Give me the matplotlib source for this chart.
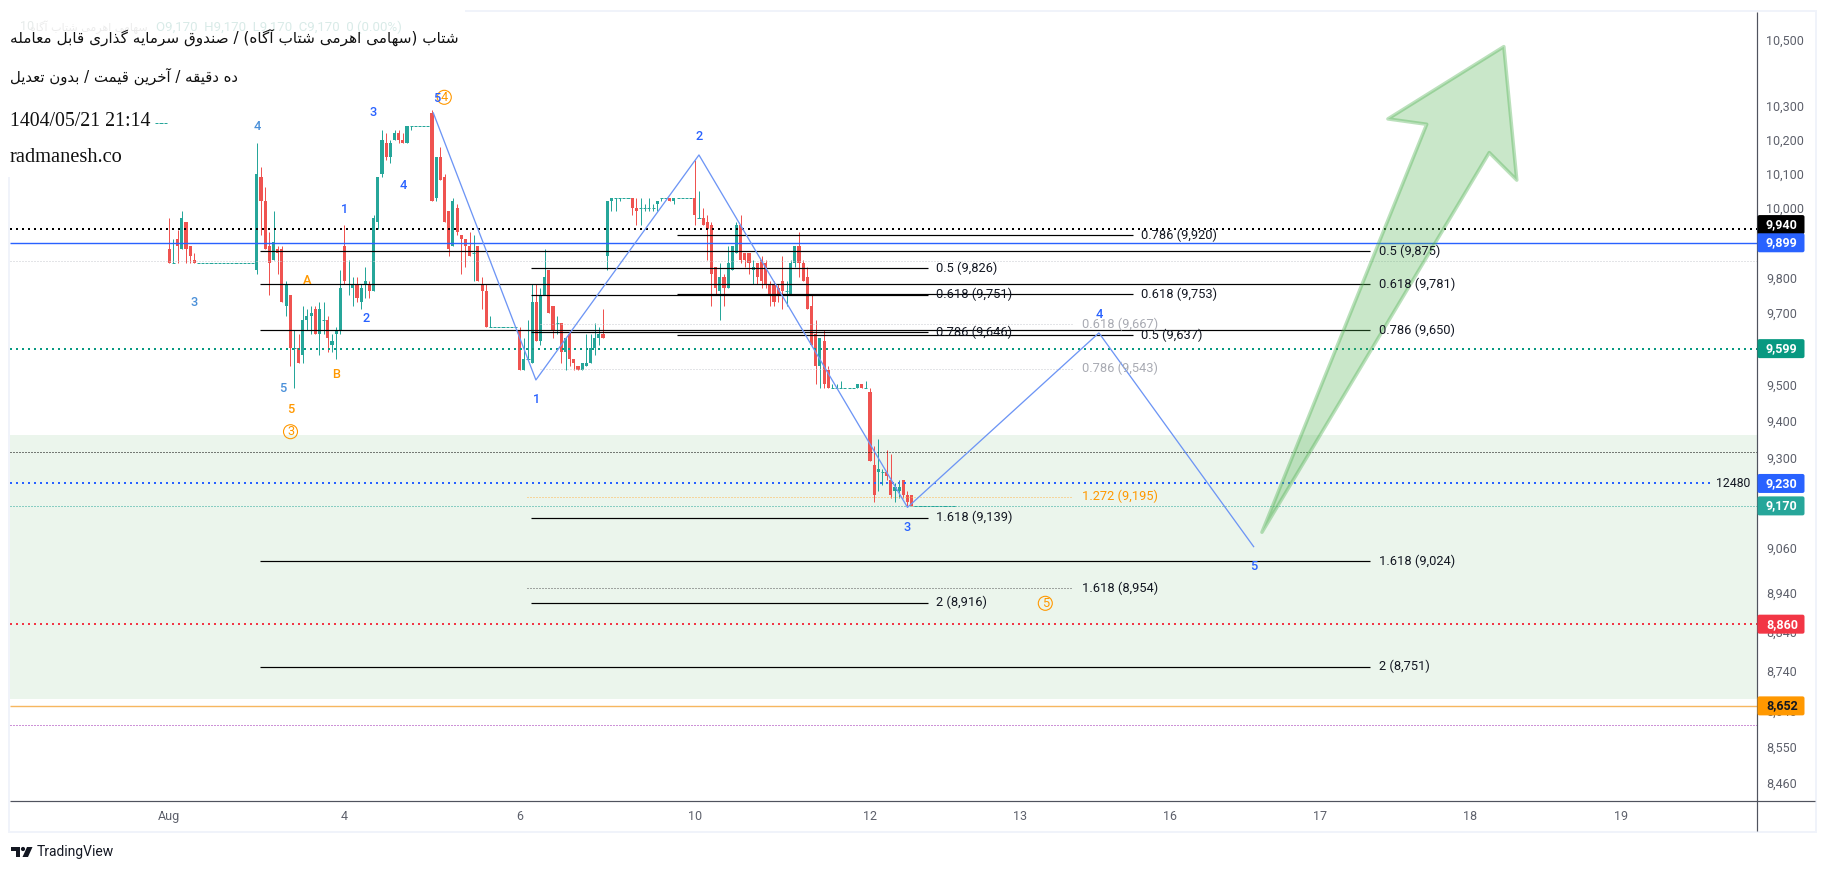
import numpy as np
import matplotlib
matplotlib.use("Agg")
import matplotlib.pyplot as plt
from matplotlib.lines import Line2D
from matplotlib.patches import FancyBboxPatch, Polygon, Rectangle, Circle
from matplotlib.ticker import NullLocator
from matplotlib.transforms import IdentityTransform

W, H = 1827, 871

# ---------- data ----------
first_bar = -3
opens = [10250, 10250, 10250,
 9880,9840,9910,9880,9960,9890,9850,9840,9840,9840,
 9840,9840,9840,9840,9840,9840,9840,9840,9840,9840,
 9840,9820,10090,10020,9890,9850,9880,9880,9720,9750,
 9600,9600,9580,9680,9690,9710,9640,9680,9680,9610,
 9640,9650,9890,9780,9770,9780,9730,9780,9780,9760,
 9960,10100,10190,10150,10200,10220,10200,10190,10240,10240,
 10240,10240,10240,10280,10030,10150,10090,9990,9890,10000,
 9920,9910,9890,9870,9890,9780,9760,9660,9660,9660,
 9660,9660,9660,9660,9650,9540,9570,9560,9730,9620,
 9750,9820,9720,9670,9670,9590,9640,9570,9550,9540,
 9550,9560,9600,9630,9640,9860,10020,10030,10030,10030,
 10030,10030,10000,10000,10000,10000,10000,10010,10030,10030,
 10030,10020,10030,10030,10030,10030,10030,9970,9970,9960,
 9950,9830,9760,9800,9770,9820,9870,9950,9870,9870,
 9820,9840,9850,9840,9780,9780,9770,9790,9760,9750,
 9840,9890,9840,9800,9720,9640,9550,9620,9540,9490,
 9490,9490,9490,9490,9490,9490,9500,9490,9480,9280,
 9260,9260,9260,9240,9210,9210,9240,9200,9200,9170,
 9170,9170,9170,9170,9170,9170,9170,9170,9170]
highs = [10250, 10250, 10250,
 9970,9910,9935,9990,9960,9890,9870,9840,9840,9840,
 9840,9840,9840,9840,9840,9840,9840,9840,9840,9840,
 9840,10190,10120,10060,9930,9990,9890,9890,9790,9750,
 9650,9640,9720,9710,9720,9720,9730,9730,9690,9640,
 9660,9820,9950,9850,9800,9800,9780,9830,9790,9980,
 10090,10230,10220,10200,10230,10230,10220,10240,10240,10240,
 10240,10240,10240,10290,10150,10180,10100,9990,10030,10010,
 9920,9910,9930,9920,9890,9800,9780,9690,9660,9660,
 9660,9660,9660,9660,9660,9630,9680,9780,9780,9770,
 9880,9820,9720,9690,9670,9630,9650,9570,9550,9560,
 9640,9640,9670,9660,9710,10020,10030,10030,10030,10030,
 10030,10030,10030,10030,10010,10030,10010,10020,10030,10030,
 10030,10030,10030,10030,10030,10030,10140,10050,10000,9980,
 9960,9830,9840,9810,9890,9890,9960,9980,9870,9870,
 9850,9840,9860,9850,9790,9790,9780,9860,9790,9850,
 9890,9930,9850,9830,9750,9680,9630,9650,9550,9500,
 9500,9510,9490,9490,9490,9500,9500,9510,9490,9330,
 9350,9270,9320,9310,9230,9240,9240,9210,9200,9170,
 9170,9170,9170,9170,9170,9170,9170,9170,9170]
lows = [10250, 10250, 10250,
 9840,9840,9840,9880,9840,9840,9840,9840,9840,9840,
 9840,9840,9840,9840,9840,9840,9840,9840,9840,9840,
 9840,9810,9920,9880,9750,9850,9810,9730,9690,9550,
 9490,9560,9560,9650,9640,9640,9580,9640,9590,9590,
 9570,9640,9780,9750,9720,9730,9710,9740,9740,9760,
 9940,10090,10140,10130,10200,10190,10190,10190,10230,10240,
 10240,10240,10240,10020,10020,10080,9960,9860,9890,9920,
 9810,9830,9860,9790,9790,9710,9660,9660,9660,9660,
 9660,9660,9660,9660,9540,9540,9570,9560,9620,9610,
 9750,9700,9630,9640,9560,9540,9550,9540,9540,9540,
 9550,9560,9580,9610,9630,9820,9990,9990,10020,10030,
 10030,9980,9950,9950,9990,9990,9990,9990,10020,10030,
 10020,10010,10030,10030,10030,10030,9950,9970,9950,9850,
 9720,9750,9680,9720,9770,9820,9870,9840,9830,9810,
 9780,9780,9770,9770,9720,9720,9730,9710,9720,9750,
 9830,9800,9790,9710,9610,9500,9490,9490,9490,9490,
 9490,9490,9490,9490,9490,9490,9490,9490,9290,9180,
 9210,9225,9240,9190,9180,9190,9190,9170,9170,9170,
 9170,9170,9170,9170,9170,9170,9170,9170,9170]
closes = [10250, 10250, 10250,
 9840,9840,9890,9970,9880,9860,9840,9840,9840,9840,
 9840,9840,9840,9840,9840,9840,9840,9840,9840,9840,
 9840,10100,10020,9880,9840,9900,9870,9730,9780,9600,
 9600,9560,9680,9690,9700,9640,9710,9680,9630,9620,
 9650,9770,9790,9780,9780,9740,9770,9790,9760,9970,
 10090,10200,10150,10190,10220,10200,10190,10240,10240,10240,
 10240,10240,10240,10020,10150,10080,9960,9880,10020,9930,
 9910,9890,9860,9870,9790,9760,9660,9660,9660,9660,
 9660,9660,9660,9660,9540,9570,9570,9730,9620,9750,
 9800,9700,9650,9670,9590,9630,9570,9560,9540,9560,
 9560,9600,9630,9640,9630,10020,10030,10030,10030,10030,
 10030,10000,9990,10000,10000,10000,10000,10020,10030,10030,
 10020,10030,10030,10030,10030,10030,9980,9970,9950,9940,
 9810,9770,9800,9770,9840,9890,9950,9850,9850,9840,
 9830,9800,9790,9780,9750,9730,9750,9760,9760,9840,
 9890,9840,9790,9710,9610,9550,9630,9500,9490,9490,
 9490,9490,9490,9490,9490,9500,9490,9490,9290,9200,
 9270,9260,9250,9200,9220,9220,9200,9180,9170,9170,
 9170,9170,9170,9170,9170,9170,9170,9170,9170]

x_tick_pos = [0, 42, 84, 126, 168, 204, 240, 276, 312, 348]
x_tick_lab = ["Aug", "4", "6", "10", "12", "13", "16", "17", "18", "19"]
y_tick_val = [10500, 10300, 10200, 10100, 10000, 9800, 9700, 9500, 9400, 9300,
              9060, 8940, 8840, 8740, 8640, 8550, 8460]

wave_x = [63.3, 87.9, 127, 177, 222.9, 260]
wave_y = [10280, 9512, 10155, 9166, 9643, 9062]

arrow_x = [262, 316.5, 323.1, 320, 292.2, 301.5]
arrow_y = [9100, 10162, 10081, 10480, 10262, 10246]

zone_low, zone_high = 8670, 9360

level_price = [9940, 9899, 9846, 9599, 9315, 9230, 9170, 8860, 8652, 8604]
level_color = ["#000000", "#2962ff", "#c9cbd1", "#089981", "#000000",
               "#2962ff", "#26a69a", "#f23645", "#f6b760", "#9c27b0"]
level_width = [2, 1.4, 1, 2, 1, 2, 1, 2, 1.4, 1]
level_solid = [False, True, False, False, False, False, False, False, True, False]
level_end = [None, None, None, None, None, 369.5, None, None, None, None]

badge_price = [9940, 9899, 9599, 9230, 9170, 8860, 8652]
badge_color = ["#000000", "#2962ff", "#089981", "#2962ff", "#26a69a", "#f23645", "#ff9800"]
badge_text = ["#ffffff"] * 6 + ["#131722"]
badge_lift = [4, 0, 0, 0, 0, 0, 0]

fib_a_levels = [(9875, "0.5 (9,875)"), (9781, "0.618 (9,781)"), (9650, "0.786 (9,650)"),
                (9024, "1.618 (9,024)"), (8751, "2 (8,751)")]
fib_b_levels = [(9826, "0.5 (9,826)"), (9751, "0.618 (9,751)"), (9646, "0.786 (9,646)"),
                (9139, "1.618 (9,139)"), (8916, "2 (8,916)")]
fib_c_levels = [(9920, "0.786 (9,920)"), (9753, "0.618 (9,753)"), (9637, "0.5 (9,637)")]
fib_d_levels = [(9667, "0.618 (9,667)", "#a9abb3", "#c9cbd1"),
                (9543, "0.786 (9,543)", "#a9abb3", "#c9cbd1"),
                (9195, "1.272 (9,195)", "#ff9800", "#ffb74d"),
                (8954, "1.618 (8,954)", "#131722", "#555555")]

title_1 = "شتاب (سهامی اهرمی شتاب آگاه) / صندوق سرمایه گذاری قابل معامله"
title_2 = "ده دقیقه / آخرین قیمت / بدون تعدیل"
title_3 = "1404/05/21 21:14"
title_4 = "radmanesh.co"
legend_name = "سهامی اهرمی شتاب آگاه"

BLUE, STEEL, ORANGE = "#2962ff", "#4a90d9", "#ff9800"
wave_labels = [("3", 194.3, 302.3, STEEL), ("4", 257.3, 126.7, STEEL), ("5", 282.3, 388.3, STEEL),
               ("5", 290.3, 409.3, ORANGE), ("A", 307.3, 280, ORANGE), ("B", 336.3, 374.3, ORANGE),
               ("1", 344.3, 209.3, BLUE), ("2", 365.7, 318.3, BLUE), ("3", 373.3, 112.3, BLUE),
               ("4", 403.3, 185.7, BLUE), ("5", 436.3, 99, BLUE), ("1", 536.3, 399.3, BLUE),
               ("2", 699.3, 136.7, BLUE), ("3", 907.3, 527.7, BLUE), ("5", 1253.3, 566.7, BLUE),
               ("4", 1099.3, 315, BLUE)]
circled_labels = [("3", 290.5, 431.7), ("4", 444.3, 97.3), ("5", 1045.3, 603.3)]

# ---------- Persian shaping (matplotlib does not join Arabic script) ----------
FORMS = {
 "ا": (0xFE8D, 0xFE8E), "آ": (0xFE81, 0xFE82), "د": (0xFEA9, 0xFEAA), "ذ": (0xFEAB, 0xFEAC),
 "ر": (0xFEAD, 0xFEAE), "ز": (0xFEAF, 0xFEB0), "و": (0xFEED, 0xFEEE),
 "ب": (0xFE8F, 0xFE90, 0xFE91, 0xFE92), "ت": (0xFE95, 0xFE96, 0xFE97, 0xFE98),
 "خ": (0xFEA5, 0xFEA6, 0xFEA7, 0xFEA8), "س": (0xFEB1, 0xFEB2, 0xFEB3, 0xFEB4),
 "ش": (0xFEB5, 0xFEB6, 0xFEB7, 0xFEB8), "ص": (0xFEB9, 0xFEBA, 0xFEBB, 0xFEBC),
 "ع": (0xFEC9, 0xFECA, 0xFECB, 0xFECC), "ق": (0xFED5, 0xFED6, 0xFED7, 0xFED8),
 "ل": (0xFEDD, 0xFEDE, 0xFEDF, 0xFEE0), "م": (0xFEE1, 0xFEE2, 0xFEE3, 0xFEE4),
 "ن": (0xFEE5, 0xFEE6, 0xFEE7, 0xFEE8), "ه": (0xFEE9, 0xFEEA, 0xFEEB, 0xFEEC),
 "ی": (0xFBFC, 0xFBFD, 0xFBFE, 0xFBFF), "گ": (0xFB92, 0xFB93, 0xFB94, 0xFB95),
}


def shape(text):
    out = []
    for i, ch in enumerate(text):
        if ch not in FORMS:
            out.append({"(": ")", ")": "("}.get(ch, ch))
            continue
        prev = text[i - 1] if i else " "
        nxt = text[i + 1] if i + 1 < len(text) else " "
        joins_prev = prev in FORMS and len(FORMS[prev]) == 4
        joins_next = nxt in FORMS and len(FORMS[ch]) == 4
        f = FORMS[ch]
        if joins_prev and joins_next:
            out.append(chr(f[3]))
        elif joins_prev:
            out.append(chr(f[1]))
        elif joins_next:
            out.append(chr(f[2]))
        else:
            out.append(chr(f[0]))
    return "".join(reversed(out))


# ---------- figure ----------
UI = "Roboto"
fig = plt.figure(figsize=(W / 100, H / 100), dpi=100, facecolor="white")
ax = fig.add_axes([10 / W, 1 - 801 / H, 1747 / W, 789 / H])
ax.set_yscale("log")
ax.set_xlim(-38.2, 380.7)
ax.set_ylim(8416, 10586)
ax.set_facecolor("white")
for s in ax.spines.values():
    s.set_visible(False)


def px(v):
    return v * 0.72


def barx(pixel):
    return (pixel - 169.3) / 4.17


ax.axhspan(zone_low, zone_high, color="#ebf5ec", lw=0, zorder=0)

x = np.arange(first_bar, first_bar + len(opens))
o, h_, l, c = map(np.array, (opens, highs, lows, closes))
up = c >= o
cols = np.where(up, "#26a69a", "#ef5350")
ax.vlines(x, l, h_, colors=cols, lw=px(1), zorder=3)
solid = o != c
ax.bar(x[solid], np.abs(c - o)[solid], bottom=np.minimum(o, c)[solid], width=0.75,
       color=cols[solid], lw=0, zorder=3)
ax.hlines(o[~solid], x[~solid] - 0.375, x[~solid] + 0.375, colors=cols[~solid], lw=px(1), zorder=3)

for p, col, w, is_solid, end in zip(level_price, level_color, level_width, level_solid, level_end):
    right = 380.7 if end is None else end
    ax.plot([-38.2, right], [p, p], color=col, lw=px(w), zorder=4,
            ls="-" if is_solid else (0, (1, 2)), dash_capstyle="butt", solid_capstyle="butt")


def fib(levels, bar_from, bar_to, bar_label):
    for p, lab in levels:
        ax.plot([bar_from, bar_to], [p, p], color="#000000", lw=px(1.2), zorder=4, solid_capstyle="butt")
        ax.text(bar_label, p, lab, color="#131722", fontsize=9.25, family=UI, va="center", ha="left", zorder=6)


fib(fib_a_levels, barx(260), barx(1370), barx(1379))
fib(fib_b_levels, barx(531), barx(928), barx(936))
fib(fib_c_levels, barx(677), barx(1133), barx(1141))
for p, lab, tc, lc in fib_d_levels:
    start = barx(540) if lc == "#c9cbd1" else barx(527)
    ax.plot([start, barx(1073)], [p, p], color=lc, lw=px(1), ls=(0, (1, 2)), zorder=4)
    ax.text(barx(1082), p, lab, color=tc, fontsize=9.25, family=UI, va="center", ha="left", zorder=6)

ax.plot(wave_x, wave_y, color="#6d95f5", lw=px(1.3), zorder=5)

ax.add_patch(Polygon(np.column_stack([arrow_x, arrow_y]), closed=True, facecolor=(0.30, 0.69, 0.31, 0.30),
                     edgecolor=(0.30, 0.69, 0.31, 0.38), lw=px(3.5), joinstyle="round", zorder=5))

ax.set_xticks(x_tick_pos, x_tick_lab)
ax.set_yticks(y_tick_val, [f"{v:,}" for v in y_tick_val])
ax.yaxis.set_minor_locator(NullLocator())
ax.xaxis.set_minor_locator(NullLocator())
ax.yaxis.tick_right()
ax.tick_params(axis="both", length=0, labelsize=9, labelcolor="#5d606b")
ax.tick_params(axis="y", pad=px(9))
ax.tick_params(axis="x", pad=px(9))
for t in ax.get_xticklabels() + ax.get_yticklabels():
    t.set_family(UI)


def ptext(xp, yp, s, **kw):
    kw.setdefault("va", "center")
    return fig.text(xp / W, 1 - yp / H, s, **kw)


def pline(x0, y0, x1, y1, col, w=1.0):
    fig.add_artist(Line2D([x0 / W, x1 / W], [1 - y0 / H, 1 - y1 / H], color=col, lw=px(w),
                          transform=fig.transFigure, solid_capstyle="butt", zorder=3))


FRAME = "#f0f3fa"
pline(465, 11, 1816, 11, FRAME, 2)
pline(1816, 10, 1816, 833, FRAME, 2)
pline(8, 832, 1816, 832, FRAME, 2)
pline(9, 177, 9, 833, FRAME, 2)
pline(1757, 12, 1757, 831, "#50535e", 1.2)
pline(10, 801, 1815, 801, "#50535e", 1.2)

fig.canvas.draw()
for p, col, tc, lift in zip(badge_price, badge_color, badge_text, badge_lift):
    py = ax.transData.transform((0, p))[1] + lift
    fig.add_artist(FancyBboxPatch((1757.5, py - 9.5), 47, 19, boxstyle="round,pad=0,rounding_size=2",
                                  transform=IdentityTransform(), facecolor=col, edgecolor="none", zorder=5))
    fig.text(1766 / W, py / H, f"{p:,}", color=tc, fontsize=9, fontweight="bold", family=UI,
             va="center", ha="left", zorder=6)

ptext(1750, 483.7, "12480", color="#131722", fontsize=8.8, family=UI, ha="right", zorder=6)

for s, xp, yp, col in wave_labels:
    ptext(xp, yp, s, color=col, fontsize=9.2, family=UI, fontweight="medium", ha="center", zorder=6)
for s, xp, yp in circled_labels:
    ptext(xp, yp, s, color=ORANGE, fontsize=9.2, family=UI, ha="center", zorder=6)
    fig.add_artist(Circle((xp, H - yp), 7, transform=IdentityTransform(), facecolor="none",
                          edgecolor=ORANGE, lw=px(1.1), zorder=6))

ptext(20, 27, "10", color="#e6ebea", fontsize=9, family=UI, zorder=5)
ptext(148, 27, shape(legend_name), color="#ececec", fontsize=8, family="DejaVu Sans", ha="right", zorder=5)
ptext(156, 27, "O9,170  H9,170  L9,170  C9,170  0 (0.00%)", color="#d9ebe8", fontsize=9.5, family=UI, zorder=5)
ptext(10, 37, shape(title_1), color="#111111", fontsize=10.95, family="DejaVu Sans", ha="left", zorder=7)
ptext(10, 76, shape(title_2), color="#111111", fontsize=10.7, family="DejaVu Sans", ha="left", zorder=7)
ptext(10, 121, title_3, color="#111111", fontsize=14.3, family="Liberation Serif", ha="left", zorder=7)
ptext(10, 157, title_4, color="#111111", fontsize=14.7, family="Liberation Serif", ha="left", zorder=7)

LOGO = "#131722"
fig.add_artist(Polygon([(11, H - 847), (20, H - 847), (20, H - 857), (15.5, H - 857), (15.5, H - 851), (11, H - 851)],
                       closed=True, transform=IdentityTransform(), facecolor=LOGO, edgecolor="none", zorder=6))
fig.add_artist(Circle((23, H - 849), 2.1, transform=IdentityTransform(), facecolor=LOGO, edgecolor="none", zorder=6))
fig.add_artist(Polygon([(27, H - 847), (32.5, H - 847), (28, H - 857), (22.5, H - 857)],
                       closed=True, transform=IdentityTransform(), facecolor=LOGO, edgecolor="none", zorder=6))
ptext(37, 852, "TradingView", color=LOGO, fontsize=10, family=UI, ha="left", zorder=6)

fig.savefig("out.png", dpi=100, facecolor="white")
